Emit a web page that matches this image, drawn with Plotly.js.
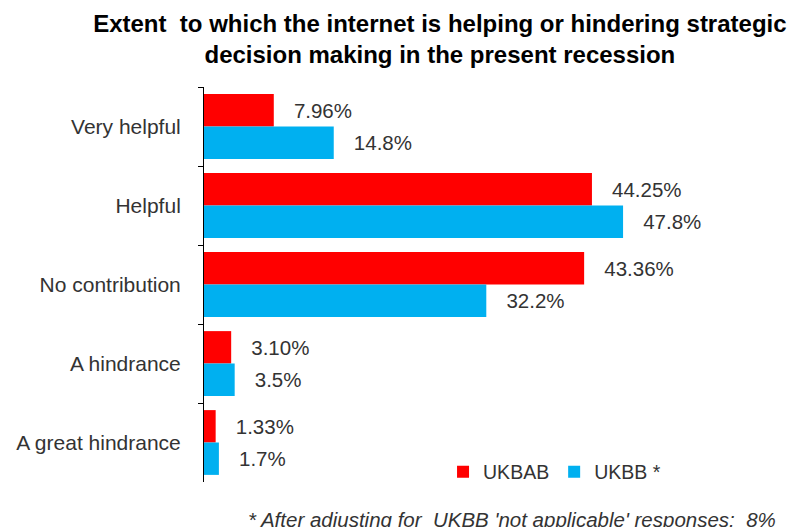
<!DOCTYPE html>
<html>
<head>
<meta charset="utf-8">
<script src="https://cdn.plot.ly/plotly-3.0.1.min.js"></script>
<style>html,body{margin:0;padding:0;background:#fff;}#chart{width:794px;height:527px;}</style>
</head>
<body>
<div id="chart"></div>
<script>
const categories = ["Very helpful", "Helpful", "No contribution", "A hindrance", "A great hindrance"];
const seriesNames = ["UKBAB", "UKBB *"];
const ukbab = [7.96, 44.25, 43.36, 3.10, 1.33];
const ukbabLabels = ["7.96%", "44.25%", "43.36%", "3.10%", "1.33%"];
const ukbb = [14.8, 47.8, 32.2, 3.5, 1.7];
const ukbbLabels = ["14.8%", "47.8%", "32.2%", "3.5%", "1.7%"];
const titleText = "Extent  to which the internet is helping or hindering strategic<br>decision making in the present recession";
const footnote = "* After adjusting for  UKBB 'not applicable' responses:  8%";

const labelFont = {family: "Liberation Sans, Arial, sans-serif", size: 20.5, color: "#333333"};

const traces = [
  {type: "bar", orientation: "h", name: seriesNames[0], y: categories, x: ukbab,
   marker: {color: "#FF0000"}, text: ukbabLabels, texttemplate: "   %{text}",
   textposition: "outside", textfont: labelFont, cliponaxis: false, hoverinfo: "skip"},
  {type: "bar", orientation: "h", name: seriesNames[1], y: categories, x: ukbb,
   marker: {color: "#00B0F0"}, text: ukbbLabels, texttemplate: "   %{text}",
   textposition: "outside", textfont: labelFont, cliponaxis: false, hoverinfo: "skip"}
];

const layout = {
  width: 794, height: 527,
  margin: {l: 204, r: 14, t: 87, b: 45},
  paper_bgcolor: "#fff", plot_bgcolor: "#fff",
  barmode: "group", bargap: 0.18, bargroupgap: 0,
  font: labelFont,
  title: {text: titleText, x: 0.554, xanchor: "center", y: 0.94, yanchor: "top",
          font: {family: "Liberation Sans, Arial, sans-serif", size: 24, color: "#000", weight: "bold"}},
  xaxis: {range: [0, 65.7], showgrid: false, zeroline: false, showline: false,
          showticklabels: false, ticks: "", fixedrange: true},
  yaxis: {autorange: "reversed", showline: true, linecolor: "#000", linewidth: 1,
          ticks: "outside", tickson: "boundaries", ticklen: 5, tickcolor: "#000",
          ticklabelstandoff: 18, showgrid: false, zeroline: false,
          tickfont: {family: "Liberation Sans, Arial, sans-serif", size: 21, color: "#333333"}},
  legend: {orientation: "h", x: 0.415, xanchor: "left", y: 0.025, yanchor: "middle",
           font: {family: "Liberation Sans, Arial, sans-serif", size: 19.5, color: "#333333"},
           bgcolor: "rgba(0,0,0,0)", traceorder: "normal", itemwidth: 30},
  showlegend: true,
  annotations: [{text: footnote, xref: "paper", yref: "paper", x: 0.073, y: -0.06,
                 xanchor: "left", yanchor: "top", showarrow: false,
                 font: {family: "Liberation Sans, Arial, sans-serif", size: 20.5, color: "#333333", style: "italic"}}]
};

Plotly.newPlot("chart", traces, layout, {displayModeBar: false, staticPlot: true});
</script>
</body>
</html>
